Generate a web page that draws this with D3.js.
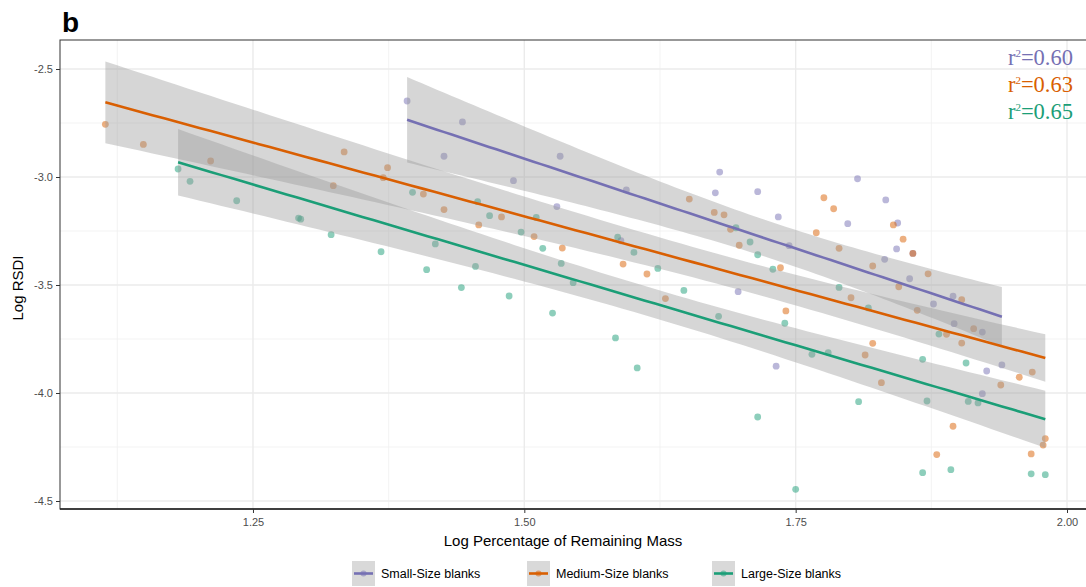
<!DOCTYPE html>
<html>
<head>
<meta charset="utf-8">
<script src="https://cdn.jsdelivr.net/npm/d3@7"></script>
<style>
  body { margin: 0; background: #fff; }
  svg { display: block; font-family: "Liberation Sans", Arial, sans-serif; }
</style>
</head>
<body>
<svg id="chart" width="1086" height="587"></svg>
<script>
// series names + colours
var seriesNames = ["Small-Size blanks", "Medium-Size blanks", "Large-Size blanks"];
var seriesColors = ["#7570b3", "#d95f02", "#1b9e77"];
var r2Labels = ["0.60", "0.63", "0.65"];

var xTicks = [1.25, 1.50, 1.75, 2.00];
var yTicks = [-2.5, -3.0, -3.5, -4.0, -4.5];

// [log % remaining mass, log RSDI]
var smallPts = [
  [1.392,-2.648],[1.443,-2.745],[1.426,-2.904],[1.490,-3.017],[1.533,-2.904],
  [1.530,-3.137],[1.594,-3.060],[1.589,-3.295],[1.680,-2.977],[1.676,-3.073],
  [1.715,-3.068],[1.734,-3.185],[1.744,-3.318],[1.697,-3.531],[1.732,-3.876],
  [1.807,-3.008],[1.833,-3.106],[1.798,-3.216],[1.844,-3.213],[1.843,-3.333],
  [1.858,-3.354],[1.832,-3.381],[1.855,-3.471],[1.895,-3.552],[1.877,-3.588],
  [1.896,-3.679],[1.922,-3.718],[1.940,-3.870],[1.926,-3.898],[1.922,-4.003]
];
var mediumPts = [
  [1.114,-2.756],[1.149,-2.849],[1.211,-2.926],[1.324,-3.040],[1.334,-2.884],
  [1.374,-2.957],[1.370,-3.003],[1.407,-3.079],[1.426,-3.151],[1.479,-3.185],
  [1.458,-3.222],[1.509,-3.276],[1.535,-3.329],[1.591,-3.403],[1.613,-3.449],
  [1.630,-3.563],[1.736,-3.420],[1.741,-3.620],[1.652,-3.102],[1.675,-3.164],
  [1.684,-3.175],[1.776,-3.096],[1.785,-3.147],[1.690,-3.242],[1.698,-3.316],
  [1.769,-3.258],[1.790,-3.330],[1.840,-3.222],[1.849,-3.288],[1.858,-3.354],
  [1.821,-3.412],[1.872,-3.448],[1.845,-3.508],[1.801,-3.559],[1.862,-3.617],
  [1.903,-3.568],[1.914,-3.702],[1.889,-3.728],[1.903,-3.769],[1.821,-3.770],
  [1.814,-3.824],[1.968,-3.903],[1.956,-3.927],[1.939,-3.963],[1.829,-3.952],
  [1.895,-4.154],[1.980,-4.211],[1.978,-4.241],[1.880,-4.285],[1.967,-4.282]
];
var largePts = [
  [1.181,-2.963],[1.192,-3.020],[1.235,-3.110],[1.292,-3.190],[1.294,-3.195],
  [1.322,-3.267],[1.397,-3.071],[1.457,-3.114],[1.468,-3.179],[1.511,-3.187],
  [1.497,-3.255],[1.517,-3.330],[1.368,-3.346],[1.418,-3.310],[1.410,-3.429],
  [1.455,-3.414],[1.534,-3.400],[1.442,-3.512],[1.486,-3.551],[1.545,-3.489],
  [1.526,-3.630],[1.623,-3.423],[1.647,-3.525],[1.584,-3.745],[1.604,-3.884],
  [1.679,-3.645],[1.729,-3.427],[1.740,-3.677],[1.715,-4.111],[1.750,-4.446],
  [1.765,-3.821],[1.780,-3.813],[1.695,-3.235],[1.708,-3.301],[1.715,-3.360],
  [1.586,-3.278],[1.601,-3.349],[1.790,-3.511],[1.817,-3.606],[1.882,-3.727],
  [1.867,-3.844],[1.907,-3.861],[1.808,-4.040],[1.871,-4.037],[1.909,-4.039],
  [1.918,-4.046],[1.867,-4.369],[1.893,-4.355],[1.967,-4.374],[1.980,-4.378]
];
var allSeries = [smallPts, mediumPts, largePts];

var svg = d3.select("#chart");
var pLeft = 60, pTop = 40, pRight = 1090, pBottom = 509;

var x = d3.scaleLinear().domain([1.0722, 2.0]).range([pLeft, 1067]);
var y = d3.scaleLinear().domain([-2.3657, -4.537]).range([pTop, pBottom]);

// grid (major + minor)
var g = svg.append("g");
var minorX = [1.125, 1.375, 1.625, 1.875];
var minorY = [-2.75, -3.25, -3.75, -4.25];
g.selectAll(".mx").data(minorX).enter().append("line")
  .attr("x1", d => x(d)).attr("x2", d => x(d)).attr("y1", pTop).attr("y2", pBottom)
  .attr("stroke", "#f0f0f0").attr("stroke-width", 0.8);
g.selectAll(".my").data(minorY).enter().append("line")
  .attr("y1", d => y(d)).attr("y2", d => y(d)).attr("x1", pLeft).attr("x2", pRight)
  .attr("stroke", "#f0f0f0").attr("stroke-width", 0.8);
g.selectAll(".gx").data(xTicks).enter().append("line")
  .attr("x1", d => x(d)).attr("x2", d => x(d)).attr("y1", pTop).attr("y2", pBottom)
  .attr("stroke", "#ebebeb").attr("stroke-width", 1.4);
g.selectAll(".gy").data(yTicks).enter().append("line")
  .attr("y1", d => y(d)).attr("y2", d => y(d)).attr("x1", pLeft).attr("x2", pRight)
  .attr("stroke", "#ebebeb").attr("stroke-width", 1.4);

// t quantile approximation (0.975)
function tq(nu) {
  var z = 1.959964;
  return z + (Math.pow(z,3) + z) / (4*nu) + (5*Math.pow(z,5) + 16*Math.pow(z,3) + 3*z) / (96*nu*nu);
}

function fit(pts) {
  var n = pts.length;
  var mx = d3.mean(pts, d => d[0]), my = d3.mean(pts, d => d[1]);
  var sxx = d3.sum(pts, d => (d[0]-mx)*(d[0]-mx));
  var sxy = d3.sum(pts, d => (d[0]-mx)*(d[1]-my));
  var b = sxy / sxx, a = my - b*mx;
  var sse = d3.sum(pts, d => Math.pow(d[1] - (a + b*d[0]), 2));
  var s = Math.sqrt(sse / (n-2));
  var t = tq(n-2);
  var ext = d3.extent(pts, d => d[0]);
  var out = [];
  for (var i = 0; i <= 80; i++) {
    var xv = ext[0] + (ext[1]-ext[0]) * i / 80;
    var se = s * Math.sqrt(1/n + (xv-mx)*(xv-mx)/sxx);
    out.push({x: xv, y: a + b*xv, lo: a + b*xv - t*se, hi: a + b*xv + t*se});
  }
  return out;
}

// points first (under the bands)
allSeries.forEach(function(pts, i) {
  svg.append("g").selectAll("circle").data(pts).enter().append("circle")
    .attr("cx", d => x(d[0])).attr("cy", d => y(d[1])).attr("r", 3.4)
    .attr("fill", seriesColors[i]).attr("fill-opacity", 0.5);
});

var fits = allSeries.map(fit);

var area = d3.area().x(d => x(d.x)).y0(d => y(d.lo)).y1(d => y(d.hi));
var line = d3.line().x(d => x(d.x)).y(d => y(d.y));

fits.forEach(function(f, i) {
  svg.append("path").datum(f).attr("d", area)
    .attr("fill", "#999999").attr("fill-opacity", 0.4);
  svg.append("path").datum(f).attr("d", line)
    .attr("fill", "none").attr("stroke", seriesColors[i]).attr("stroke-width", 2.6);
});

// panel border + axes
svg.append("rect").attr("x", pLeft).attr("y", pTop).attr("width", pRight - pLeft).attr("height", pBottom - pTop)
  .attr("fill", "none").attr("stroke", "#333").attr("stroke-width", 1);
svg.append("line").attr("x1", pLeft).attr("x2", pRight).attr("y1", pBottom).attr("y2", pBottom)
  .attr("stroke", "#222").attr("stroke-width", 1.3);

var xAxis = svg.append("g").attr("transform", "translate(0," + pBottom + ")")
  .call(d3.axisBottom(x).tickValues(xTicks).tickFormat(d3.format(".2f")).tickSize(4).tickSizeOuter(0));
var yAxis = svg.append("g").attr("transform", "translate(" + pLeft + ",0)")
  .call(d3.axisLeft(y).tickValues(yTicks).tickFormat(d3.format(".1f")).tickSize(4).tickSizeOuter(0));
[xAxis, yAxis].forEach(function(ax) {
  ax.select(".domain").remove();
  ax.selectAll(".tick line").attr("stroke", "#333");
  ax.selectAll(".tick text").attr("fill", "#4d4d4d").style("font-size", "11px")
    .style("font-family", "'Liberation Sans', Arial, sans-serif");
});
xAxis.selectAll(".tick text").attr("dy", "0.9em");
yAxis.selectAll(".tick text").text(d => d3.format(".1f")(d).replace("\u2212", "-"));

// titles
svg.append("text").attr("x", 563).attr("y", 546).attr("text-anchor", "middle")
  .style("font-size", "15px").text("Log Percentage of Remaining Mass");
svg.append("text").attr("transform", "translate(23,288) rotate(-90)").attr("text-anchor", "middle")
  .style("font-size", "15px").text("Log RSDI");
svg.append("text").attr("x", 62).attr("y", 32).style("font-size", "28px").style("font-weight", "bold").text("b");

// r^2 labels
r2Labels.forEach(function(v, i) {
  var t = svg.append("text").attr("x", 1073).attr("y", 65 + i * 27).attr("text-anchor", "end")
    .style("font-family", "'Liberation Serif', 'Times New Roman', serif").style("font-size", "22.5px")
    .attr("fill", seriesColors[i]);
  t.append("tspan").text("r");
  t.append("tspan").attr("dy", -8).style("font-size", "11px").text("2");
  t.append("tspan").attr("dy", 8).text("=" + v);
});

// legend
var legX = [352, 527, 712];
seriesNames.forEach(function(name, i) {
  var lg = svg.append("g").attr("transform", "translate(" + legX[i] + ",561)");
  lg.append("rect").attr("width", 23).attr("height", 25).attr("fill", "#d9d9d9");
  lg.append("line").attr("x1", 2).attr("x2", 21).attr("y1", 12.5).attr("y2", 12.5)
    .attr("stroke", seriesColors[i]).attr("stroke-width", 2.6);
  lg.append("circle").attr("cx", 11.5).attr("cy", 12.5).attr("r", 3).attr("fill", seriesColors[i]).attr("fill-opacity", 0.5);
  lg.append("text").attr("x", 29).attr("y", 17).style("font-size", "12.5px").text(name);
});
</script>
</body>
</html>
